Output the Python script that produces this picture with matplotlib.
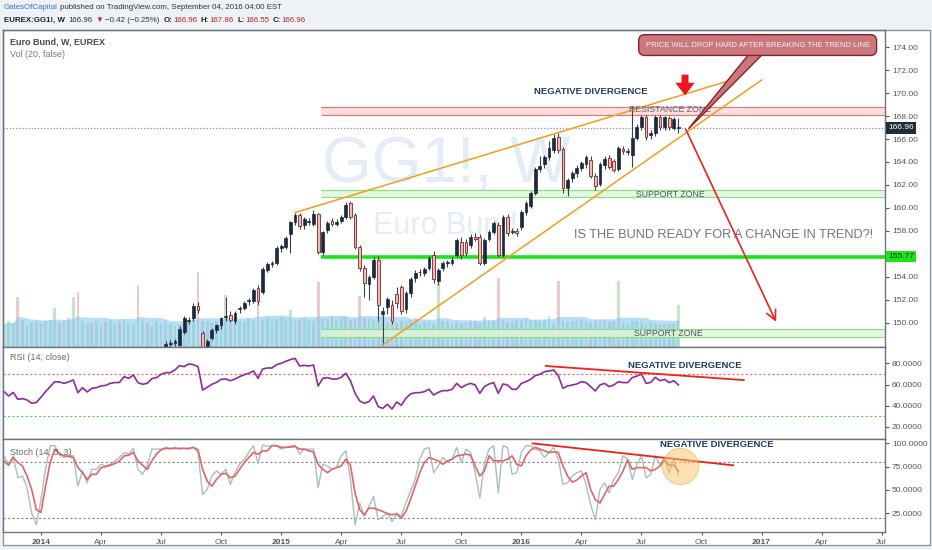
import numpy as np
import pandas as pd
import matplotlib
matplotlib.use('Agg')
import matplotlib.pyplot as plt
import matplotlib.dates as mdates
import matplotlib.transforms as mtransforms
from matplotlib.patches import Rectangle, Polygon

plt.rcParams['font.family'] = ['Liberation Sans', 'DejaVu Sans']

# weekly bars, monday stamps
dates = pd.date_range('2013-11-11', periods=147, freq='7D')
candle_start = 35  # first bar that is inside the visible price range

opens = [147.9, 148.2, 148.3, 148.1, 149.2, 150.2, 150.4, 151.5, 149.1, 147.9,
         148.7, 149.4, 149.8, 150.5, 150.7, 150.2, 151.2, 151.3, 151.9, 151.9,
         153.0, 152.7, 154.6, 155.1, 155.2, 156.5, 156.6, 157.7, 158.8, 159.4,
         158.5, 158.8, 158.6, 159.5, 156.2, 158.1, 158.9, 158.6, 158.9, 159.2,
         160.4, 159.4, 156.6, 154.8, 153.4, 154.0, 155.5, 150.8, 151.4, 151.6,
         152.5, 153.1, 151.2, 152.6, 153.9, 154.4, 154.35, 154.8, 155.9, 153.65,
         154.8, 155.2, 155.2, 155.9, 157.0, 157.0, 156.8, 157.5, 157.5, 155.2,
         157.3, 157.9, 158.5, 155.9, 159.2, 157.9, 158.0, 158.35, 159.65, 160.2,
         161.3, 163.4, 163.8, 164.4, 165.0, 166.2, 165.1, 161.7, 162.6, 163.0,
         163.5, 163.8, 164.2, 162.8, 162.1, 163.7, 164.35, 164.1, 163.4, 165.1,
         164.9, 164.6, 166.1, 167.04, 167.9, 166.35, 166.5, 167.9, 167.04, 167.8,
         167.0, 166.96]
closes = [148.2, 148.3, 148.4, 149.5, 150.4, 150.3, 151.5, 151.1, 147.9, 148.4,
          149.4, 149.8, 150.4, 150.6, 150.3, 150.9, 151.3, 151.7, 152.0, 152.9,
          151.9, 154.7, 155.1, 155.2, 156.5, 156.7, 157.4, 158.8, 159.4, 158.4,
          159.0, 158.8, 159.5, 156.2, 157.9, 158.7, 158.6, 158.8, 159.2, 160.3,
          159.2, 156.6, 154.8, 153.5, 154.0, 155.5, 151.6, 151.0, 152.1, 150.2,
          151.7, 151.0, 152.6, 153.8, 154.35, 154.4, 154.7, 155.65, 153.8, 154.6,
          155.2, 155.2, 155.5, 157.2, 155.9, 156.1, 157.5, 157.3, 155.2, 157.2,
          157.9, 158.7, 155.9, 159.2, 157.8, 158.0, 157.8, 159.65, 160.4, 161.3,
          163.4, 163.65, 164.4, 165.2, 166.1, 165.0, 161.7, 162.4, 163.0, 163.5,
          163.9, 164.4, 162.8, 161.9, 163.8, 164.3, 163.6, 163.3, 165.2, 164.95,
          164.9, 166.1, 167.04, 167.9, 166.2, 166.5, 167.9, 167.04, 167.9, 167.04,
          167.7, 166.96]
highs = [148.4, 148.5, 148.6, 149.7, 150.6, 150.5, 151.7, 151.8, 149.3, 148.6,
         149.6, 149.9, 150.5, 152.3, 151.0, 151.0, 151.5, 151.9, 152.2, 153.0,
         153.3, 154.9, 155.3, 155.4, 156.7, 156.9, 157.6, 158.9, 159.6, 159.6,
         159.2, 159.1, 159.8, 159.6, 158.0, 158.9, 159.1, 159.0, 159.4, 160.5,
         160.6, 159.6, 156.8, 155.0, 154.2, 155.7, 155.8, 151.4, 152.3, 152.0,
         153.1, 153.3, 152.8, 154.0, 154.6, 154.7, 154.9, 155.8, 156.3, 154.8,
         155.4, 155.5, 155.7, 157.4, 157.5, 157.3, 157.7, 157.8, 157.7, 157.4,
         158.1, 158.9, 158.8, 159.4, 159.5, 158.3, 158.3, 159.8, 160.6, 161.5,
         163.6, 164.5, 164.6, 165.8, 166.4, 166.5, 165.3, 162.6, 163.2, 163.7,
         164.1, 164.6, 164.5, 163.0, 164.0, 164.5, 164.6, 164.3, 165.4, 165.4,
         165.2, 168.9, 167.3, 168.1, 168.1, 166.8, 168.1, 168.1, 168.0, 168.0,
         167.9, 167.86]
lows = [147.7, 147.9, 148.0, 147.9, 149.0, 149.9, 150.2, 150.9, 147.6, 147.6,
        148.5, 149.1, 149.5, 150.2, 150.1, 149.9, 150.9, 151.1, 151.6, 151.7,
        151.6, 152.5, 154.4, 154.9, 155.0, 156.2, 156.4, 156.1, 158.5, 158.2,
        158.2, 158.5, 158.4, 156.0, 155.9, 157.8, 158.4, 158.4, 158.7, 159.0,
        159.0, 156.4, 154.5, 152.3, 152.0, 153.8, 150.2, 148.1, 150.8, 149.9,
        151.3, 150.8, 150.9, 152.3, 153.6, 154.1, 154.1, 154.6, 153.5, 153.3,
        154.5, 154.9, 155.0, 155.7, 155.6, 155.8, 156.5, 157.1, 155.0, 155.0,
        157.1, 157.7, 155.7, 155.7, 157.6, 157.7, 157.6, 158.1, 159.4, 160.0,
        161.1, 163.1, 163.5, 164.2, 164.8, 164.8, 161.3, 161.0, 162.3, 162.7,
        163.2, 163.5, 162.6, 161.6, 161.9, 163.4, 163.4, 163.1, 163.2, 164.7,
        164.6, 163.6, 165.9, 166.8, 165.9, 166.0, 166.3, 166.8, 166.8, 166.8,
        166.8, 166.55]

# volume (thousands), all 147 weeks
volumes = [620, 700, 650, 1330, 720, 560, 640, 700, 600, 680,
           720, 1040, 650, 700, 760, 1330, 1470, 690, 600, 640,
           700, 580, 660, 720, 610, 690, 740, 650, 600, 1650,
           700, 640, 560, 700, 620, 680, 640, 560, 600, 720,
           700, 760, 2000, 680, 700, 640, 690, 720, 1390, 650,
           740, 700, 660, 780, 700, 1520, 720, 760, 700, 740,
           800, 760, 990, 700, 720, 760, 690, 700, 1730, 740,
           760, 820, 700, 760, 800, 720, 740, 1360, 780, 760,
           700, 680, 820, 650, 620, 640, 700, 680, 720, 760,
           620, 660, 700, 640, 1710, 680, 700, 600, 660, 620,
           640, 700, 680, 640, 800, 700, 680, 1840, 720, 640,
           660, 720, 700, 760, 680, 720, 700, 680, 820, 640,
           1760, 700, 660, 700, 680, 720, 680, 640, 700, 720,
           680, 660, 700, 1760, 640, 620, 680, 700, 640, 620,
           660, 640, 600, 620, 640, 600, 1120]
early_dir = "uuudu" "duudu" "uudud" "uduud" "uuduu" "duuud" "uduud"

rsi = [53.3, 49.2, 52.6, 46.0, 46.7, 45.4, 42.3, 43.0, 48.0, 53.3,
       58.0, 62.7, 62.4, 61.1, 62.4, 64.3, 52.3, 57.0, 53.0, 56.4,
       57.0, 58.6, 59.2, 61.1, 61.8, 62.0, 67.4, 65.8, 69.0, 61.8,
       60.2, 61.1, 65.5, 66.5, 69.6, 71.2, 71.2, 73.7, 77.8, 76.9,
       79.4, 78.7, 76.9, 54.8, 57.4, 60.2, 62.0, 64.9, 65.2, 63.6,
       65.2, 67.4, 69.3, 70.6, 72.8, 65.8, 74.7, 75.6, 75.6, 78.7,
       80.0, 81.9, 83.5, 84.7, 77.5, 78.1, 77.5, 78.4, 58.6, 65.8,
       66.5, 65.2, 65.2, 66.8, 70.6, 63.6, 51.7, 44.5, 42.3, 43.9,
       49.2, 39.1, 37.5, 41.3, 36.9, 43.5, 40.4, 47.0, 51.1, 52.3,
       52.3, 53.3, 55.5, 50.1, 52.6, 54.2, 54.2, 55.5, 61.1, 57.0,
       59.6, 61.1, 59.6, 51.7, 58.0, 60.5, 61.8, 51.7, 60.5, 59.6,
       55.5, 55.5, 61.1, 62.7, 64.9, 68.4, 69.6, 72.1, 72.8, 73.7,
       68.4, 56.4, 58.6, 59.6, 60.5, 62.7, 61.8, 58.0, 53.9, 59.6,
       61.1, 58.0, 59.6, 62.7, 61.8, 61.8, 66.5, 68.0, 69.9, 61.1,
       62.0, 66.8, 63.6, 64.9, 61.8, 63.6, 59.6]
stoch_k = [86.6, 77.5, 86.6, 63.0, 64.9, 52.2, 25.0, 12.3, 39.5, 72.1,
           97.5, 97.5, 88.4, 84.8, 87.3, 86.6, 54.0, 70.3, 57.6, 72.1,
           72.1, 77.5, 75.7, 77.5, 81.2, 84.8, 90.2, 88.4, 94.6, 72.1,
           66.7, 75.7, 93.8, 93.8, 93.8, 95.7, 93.8, 95.7, 93.8, 94.6,
           93.8, 95.7, 90.2, 44.9, 50.4, 64.9, 70.3, 66.7, 72.1, 55.8,
           68.5, 77.5, 83.0, 90.2, 97.5, 78.6, 98.2, 96.7, 97.5, 97.5,
           93.8, 95.7, 97.0, 98.2, 88.4, 93.8, 93.8, 93.8, 52.2, 77.5,
           75.7, 72.1, 73.9, 86.6, 92.0, 61.2, 12.3, 35.9, 21.4, 32.2,
           43.1, 17.8, 21.4, 25.0, 15.9, 25.0, 21.4, 35.9, 48.6, 61.2,
           83.0, 93.8, 95.7, 68.5, 75.7, 84.8, 79.3, 83.0, 95.7, 79.3,
           93.8, 90.2, 68.5, 41.3, 79.3, 93.8, 97.5, 46.7, 97.5, 95.7,
           66.7, 68.5, 90.2, 97.5, 97.5, 93.8, 92.0, 84.8, 90.2, 95.7,
           83.0, 55.8, 57.6, 64.9, 68.5, 70.3, 55.8, 34.1, 17.8, 50.4,
           57.6, 46.7, 61.2, 68.5, 86.6, 83.0, 61.2, 77.5, 86.6, 63.0,
           66.7, 86.6, 77.5, 84.8, 68.5, 83.0, 64.9]
stoch_d = [81.2, 76.4, 84.8, 79.3, 75.7, 64.9, 50.4, 28.6, 25.7, 54.0,
           79.3, 93.8, 89.1, 86.6, 85.9, 84.8, 73.9, 68.5, 61.2, 66.7,
           66.7, 73.9, 75.0, 76.4, 78.3, 81.2, 86.6, 87.3, 90.2, 81.2,
           76.4, 72.1, 81.2, 88.4, 93.1, 94.6, 94.6, 94.6, 94.6, 94.6,
           94.6, 95.7, 93.1, 72.1, 59.4, 54.0, 61.2, 66.7, 67.8, 63.0,
           64.9, 72.1, 79.3, 84.8, 90.2, 88.4, 92.0, 92.0, 97.5, 97.5,
           95.7, 95.7, 96.0, 96.7, 93.8, 93.8, 92.0, 90.9, 77.5, 72.1,
           68.5, 72.1, 73.9, 75.7, 83.0, 76.4, 46.7, 28.6, 23.2, 30.4,
           30.4, 28.6, 26.8, 24.3, 23.2, 24.3, 19.6, 26.8, 39.5, 54.0,
           68.5, 79.3, 84.8, 83.0, 81.2, 77.5, 81.2, 83.0, 86.6, 87.3,
           88.4, 87.3, 75.7, 64.9, 70.3, 86.6, 81.2, 81.2, 81.2, 83.0,
           86.6, 77.5, 75.7, 86.6, 92.8, 95.7, 93.8, 92.0, 90.2, 90.9,
           90.2, 75.7, 64.9, 58.3, 60.5, 64.9, 68.5, 50.4, 39.5, 35.9,
           44.9, 54.0, 54.0, 61.2, 70.3, 82.2, 72.1, 73.9, 73.9, 73.9,
           70.3, 72.1, 75.7, 82.2, 76.4, 76.4, 70.3]

last_price = 166.96
key_level = 155.77
resistance_zone = (168.1, 168.8)
support_zone_hi = (160.95, 161.55)
support_zone_lo = (148.8, 149.5)
price_ticks = [150, 152, 154, 158, 160, 162, 164, 166, 168, 170, 172, 174]  # 156 hidden by the 155.77 tag

W, H = 932, 550
fig = plt.figure(figsize=(W / 100, H / 100), dpi=100)
fig.patch.set_facecolor('#eef1f5')
fig.patches.append(Rectangle((3 / W, 1 - 545 / H), 927 / W, 515 / H, transform=fig.transFigure,
                             fc='white', ec='#8f959b', lw=1.0, zorder=-5))

def fax(top, bottom):
    return [3 / W, 1 - bottom / H, 882 / W, (bottom - top) / H]

ax = fig.add_axes(fax(30, 347))
axv = ax.twinx()
ax_rsi = fig.add_axes(fax(347, 439))
ax_sto = fig.add_axes(fax(439, 532))

xd = mdates.date2num(dates)
xmin = xd[0] - 1.5
xmax = xd[0] + 1335
D = lambda s: mdates.date2num(pd.Timestamp(s))

# ---- volume (behind the price) ----
axv.set_zorder(ax.get_zorder() - 1)
ax.patch.set_visible(False)
axv.patch.set_facecolor('white')
o = np.array(opens); c = np.array(closes); h = np.array(highs); l = np.array(lows)
vol = np.array(volumes, dtype=float)
vol_up = np.array([ch == 'u' for ch in early_dir] + list(c >= o))
axv.bar(xd[vol_up], vol[vol_up], width=4.2, color='#b3e0b3', alpha=0.75, lw=0, zorder=1)
axv.bar(xd[~vol_up], vol[~vol_up], width=4.2, color='#ecbcbc', alpha=0.8, lw=0, zorder=1)
vol_ma = pd.Series(vol).rolling(20, min_periods=1).mean()
axv.fill_between(xd, 0, vol_ma, color='#86c8ee', alpha=0.6, lw=0, zorder=2)
axv.set_ylim(0, 8450)
axv.yaxis.set_visible(False)
for s in axv.spines.values():
    s.set_visible(False)

# ---- main price panel ----
ax.set_xlim(xmin, xmax)
ax.set_ylim(147.91, 175.48)

ax.text(D('2015-09-12'), 163.7, 'GG1!, W', fontsize=46, color='#e4ecf8', ha='center', va='center', zorder=0)
ax.text(D('2015-09-10'), 158.4, 'Euro Bund', fontsize=22, color='#e4ecf8', ha='center', va='center', zorder=0)

zone_x = [D('2015-03-06'), xmax]
ax.fill_between(zone_x, *resistance_zone, color='#fbdede', lw=0, zorder=1)
ax.hlines(resistance_zone, zone_x[0], xmax, color='#e57373', lw=0.8, zorder=1)
for zlo, zhi in (support_zone_hi, support_zone_lo):
    ax.fill_between(zone_x, zlo, zhi, color='#dff5da', alpha=0.85, lw=0, zorder=1)
    ax.hlines([zlo, zhi], zone_x[0], xmax, color='#86e07a', lw=0.8, zorder=1)
ax.hlines(key_level, zone_x[0], xmax, color='#19e619', lw=2.6, zorder=2)
ax.axhline(last_price, color='#8c8c8c', lw=0.9, ls=(0, (1, 1.5)), zorder=2)

cx = xd[candle_start:]
up = c >= o
bot = np.minimum(o, c)
hgt = np.maximum(np.abs(c - o), 0.07)
ax.vlines(cx, l, h, color='#3b4048', lw=0.8, zorder=3)
ax.bar(cx[up], hgt[up], bottom=bot[up], width=4.2, color='#1c2a3c', edgecolor='#1c2a3c', lw=0.5, zorder=4)
ax.bar(cx[~up], hgt[~up], bottom=bot[~up], width=4.2, color='#ecbcb7', edgecolor='#8a3c3c', lw=0.7, zorder=4)

# trend lines
ax.plot([D('2015-01-26'), D('2016-11-21')], [159.6, 171.2], color='#f39c1f', lw=1.1, zorder=5)
ax.plot([D('2015-06-08'), D('2017-01-02')], [148.1, 171.13], color='#f39c1f', lw=1.1, zorder=5)

ax.text(D('2016-08-17'), 168.55, 'RESISTANCE ZONE', fontsize=6.3, color='#5f6670', ha='center', va='center', zorder=6)
ax.text(D('2016-08-17'), 161.2, 'SUPPORT ZONE', fontsize=6.3, color='#4d5560', ha='center', va='center', zorder=6)
ax.text(D('2016-08-13'), 149.1, 'SUPPORT ZONE', fontsize=6.3, color='#4d5560', ha='center', va='center', zorder=6)
ax.text(D('2016-04-18'), 170.1, 'NEGATIVE DIVERGENCE', fontsize=6.8, fontweight='bold', color='#1f3b5c',
        ha='center', va='center', zorder=6)
ax.text(D('2016-11-06'), 157.65, 'IS THE BUND READY FOR A CHANGE IN TREND?!', fontsize=9.2, color='#6c757f',
        ha='center', va='center', zorder=6)

ax.annotate('', xy=(D('2017-01-24'), 150.1), xytext=(D('2016-09-09'), 166.85),
            arrowprops=dict(arrowstyle='->,head_length=0.7,head_width=0.35', color='#e8231f', lw=1.2,
                            shrinkA=0, shrinkB=0), zorder=7)
ax.annotate('', xy=(D('2016-09-08'), 169.8), xytext=(D('2016-09-08'), 171.6),
            arrowprops=dict(arrowstyle='simple,head_length=0.9,head_width=1.4,tail_width=0.5',
                            color='#f0141c', lw=0, shrinkA=0, shrinkB=0), zorder=7)

tail = Polygon([(D('2016-12-14'), 173.4), (D('2017-01-04'), 173.4), (D('2016-09-13'), 166.87)],
               closed=True, fc='#c9787d', ec='#8e1f24', lw=1.0, zorder=8)
ax.add_patch(tail)
ax.text(D('2016-12-27'), 174.17, 'PRICE WILL DROP HARD AFTER BREAKING THE TREND LINE',
        fontsize=5.5, color='#fdf0f0', ha='center', va='center', zorder=9,
        bbox=dict(boxstyle='round,pad=0.9,rounding_size=0.8', fc='#c9787d', ec='#8e1f24', lw=1.0))

ax.text(0.008, 0.962, 'Euro Bund, W, EUREX', transform=ax.transAxes, fontsize=6.5, fontweight='bold',
        color='#4a4a4a', va='center')
ax.text(0.008, 0.924, 'Vol (20, false)', transform=ax.transAxes, fontsize=6.5, color='#7a7a7a', va='center')

ax.set_yticks(price_ticks)
ax.set_yticklabels([f'{v:.2f}' for v in price_ticks])

blend = mtransforms.blended_transform_factory(ax.transAxes, ax.transData)
ax.text(1.004, last_price, f'{last_price:.2f}', transform=blend, fontsize=6, color='white', va='center',
        ha='left', zorder=10, bbox=dict(boxstyle='square,pad=0.25', fc='#1f2d38', ec='none'))
ax.text(1.004, key_level, f'{key_level:.2f}', transform=blend, fontsize=6, color='#1a331a', va='center',
        ha='left', zorder=10, bbox=dict(boxstyle='square,pad=0.25', fc='#19e619', ec='none'))

# ---- RSI ----
ax_rsi.set_xlim(xmin, xmax)
ax_rsi.set_ylim(8.6, 95.4)
ax_rsi.axhline(70, color='#f06060', lw=0.8, ls=(0, (2, 2)))
ax_rsi.axhline(30, color='#55cc55', lw=0.8, ls=(0, (2, 2)))
ax_rsi.plot(xd, rsi, color='#8e2a9e', lw=1.2)
ax_rsi.plot([D('2016-02-10'), D('2016-12-06')], [77.5, 64.2], color='#f0201c', lw=1.3)
ax_rsi.text(D('2016-09-08'), 78.4, 'NEGATIVE DIVERGENCE', fontsize=6.8, fontweight='bold', color='#1f3b5c',
            ha='center', va='center')
ax_rsi.text(0.008, 0.89, 'RSI (14, close)', transform=ax_rsi.transAxes, fontsize=6.5, color='#6a6a6a', va='center')
ax_rsi.set_yticks([20, 40, 60, 80])
ax_rsi.set_yticklabels([f'{v:.4f}' for v in [20, 40, 60, 80]])

# ---- Stochastic ----
ax_sto.set_xlim(xmin, xmax)
ax_sto.set_ylim(4.7, 104.7)
ax_sto.axhline(80, color='#808080', lw=0.8, ls=(0, (2, 2)))
ax_sto.axhline(20, color='#808080', lw=0.8, ls=(0, (2, 2)))
ax_sto.plot(xd, stoch_k, color='#a7bfbf', lw=1.0)
ax_sto.plot(xd, stoch_d, color='#e06666', lw=1.2)
ax_sto.plot([D('2016-01-21'), D('2016-11-20')], [100, 76.4], color='#f0201c', lw=1.3)
ax_sto.scatter([D('2016-08-31')], [75.7], s=680, color='#f8c468', alpha=0.5, edgecolors='#f0a830', lw=0.8, zorder=5)
ax_sto.text(D('2016-10-26'), 98.3, 'NEGATIVE DIVERGENCE', fontsize=6.8, fontweight='bold', color='#1f3b5c',
            ha='center', va='center')
ax_sto.text(0.008, 0.86, 'Stoch (14, 3, 3)', transform=ax_sto.transAxes, fontsize=6.5, color='#6a6a6a', va='center')
ax_sto.set_yticks([25, 50, 75, 100])
ax_sto.set_yticklabels([f'{v:.4f}' for v in [25, 50, 75, 100]])

# x ticks at the first weekly bar of each quarter
ext = pd.date_range(dates[0], '2017-08-31', freq='7D')
tick_pos, tick_lab, seen = [], [], set()
for d in ext:
    if d.month in (1, 4, 7, 10) and (d.year, d.month) not in seen:
        seen.add((d.year, d.month))
        tick_pos.append(mdates.date2num(d))
        tick_lab.append(str(d.year) if d.month == 1 else d.strftime('%b'))
ax_sto.set_xticks(tick_pos)
ax_sto.set_xticklabels(tick_lab)
for t in ax_sto.get_xticklabels():
    if t.get_text().isdigit():
        t.set_fontweight('bold')

for a in (ax, ax_rsi, ax_sto):
    if a is not ax:
        a.set_facecolor('white')
    a.tick_params(axis='y', left=False, labelleft=False, right=True, labelright=True,
                  labelsize=6, colors='#555555', length=3, pad=2)
    a.tick_params(axis='x', labelsize=6, colors='#555555', length=2, pad=3)
    for s in a.spines.values():
        s.set_color('#6f757b')
        s.set_linewidth(1.0)
for a in (ax, ax_rsi):
    a.tick_params(axis='x', bottom=False, labelbottom=False)

# ---- header ----
renderer = fig.canvas.get_renderer()

def header_line(x, y, parts):
    for s, col, wt, gap in parts:
        t = fig.text(x / W, 1 - y / H, s, color=col, fontsize=5.7, fontweight=wt, va='center', ha='left')
        x += t.get_window_extent(renderer=renderer).width + gap

header_line(4, 7.5, [('GatesOfCapital', '#2f7bbf', 'normal', 2.2),
                     ('published on TradingView.com, September 04, 2016 04:00 EST', '#333333', 'normal', 0)])
header_line(4, 20, [('EUREX:GG1!, W', '#1e1e1e', 'bold', 3.5),
                    ('166.96', '#333333', 'normal', 3),
                    ('\u25bc', '#c62828', 'normal', 2),
                    ('\u22120.42 (\u22120.25%)', '#333333', 'normal', 4),
                    ('O:', '#1e1e1e', 'bold', 0.5), ('166.96', '#b3261e', 'normal', 3.5),
                    ('H:', '#1e1e1e', 'bold', 0.5), ('167.86', '#b3261e', 'normal', 3.5),
                    ('L:', '#1e1e1e', 'bold', 0.5), ('166.55', '#b3261e', 'normal', 3.5),
                    ('C:', '#1e1e1e', 'bold', 0.5), ('166.96', '#b3261e', 'normal', 0)])

fig.savefig('out.png', dpi=100, facecolor=fig.get_facecolor())
